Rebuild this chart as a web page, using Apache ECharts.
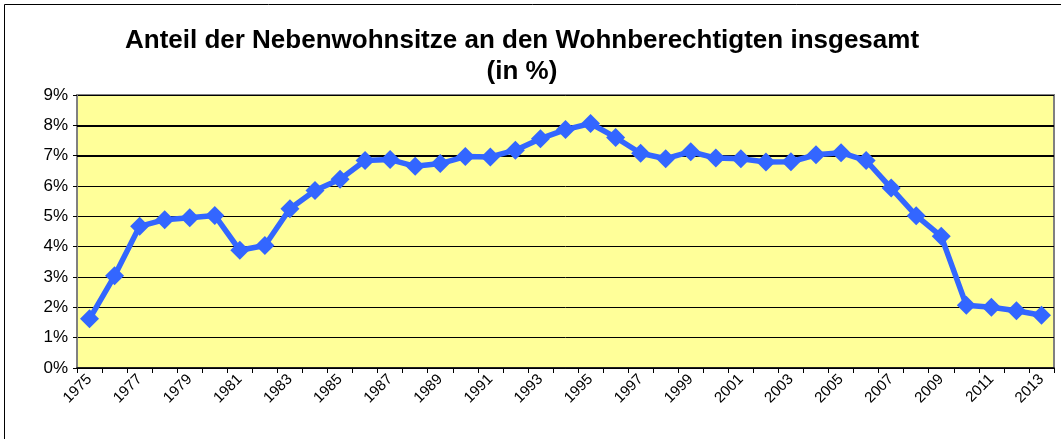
<!DOCTYPE html>
<html>
<head>
<meta charset="utf-8">
<script src="https://cdn.jsdelivr.net/npm/echarts@6/dist/echarts.min.js"></script>
<style>
  html, body { margin: 0; padding: 0; background: #fff; }
  #chart { width: 1061px; height: 439px; }
</style>
</head>
<body>
<div id="chart"></div>
<script>
const years = []
for (let y = 1975; y <= 2013; y++) years.push(String(y))

// Anteil in %
const shares = [
  1.62, 3.04, 4.67, 4.89, 4.95, 5.03, 3.88, 4.04, 5.25, 5.85,
  6.22, 6.84, 6.87, 6.65, 6.74, 6.97, 6.96, 7.18, 7.56, 7.86,
  8.06, 7.6, 7.08, 6.9, 7.13, 6.92, 6.9, 6.79, 6.8, 7.03,
  7.1, 6.84, 5.93, 5.02, 4.34, 2.07, 2.0, 1.89, 1.74
]
const boldLines = [7, 8]

const chart = echarts.init(document.getElementById('chart'))

const font = 'Liberation Sans, Arial, sans-serif'

const options = {
  animation: false,
  title: {
    text: 'Anteil der Nebenwohnsitze an den Wohnberechtigten insgesamt\n(in %)',
    left: 517,
    textAlign: 'center',
    top: 20,
    textStyle: {
      fontFamily: font,
      fontWeight: 'bold',
      fontSize: 26,
      lineHeight: 31,
      color: '#000',
    },
  },
  graphic: [
    { type: 'line', shape: { x1: 4.5, y1: 4.5, x2: 1061, y2: 4.5 }, style: { stroke: '#000', lineWidth: 1 } },
    { type: 'line', shape: { x1: 4.5, y1: 4.5, x2: 4.5, y2: 439 }, style: { stroke: '#000', lineWidth: 1 } },
  ],
  grid: {
    left: 77,
    right: 7,
    top: 95,
    bottom: 71,
    show: true,
    backgroundColor: '#FFFF99',
    borderColor: '#808080',
    borderWidth: 2,
  },
  xAxis: {
    type: 'category',
    data: years,
    boundaryGap: true,
    axisLine: { lineStyle: { color: '#000', width: 1.5 } },
    axisTick: { show: true, interval: 0, length: 5, lineStyle: { color: '#000' } },
    axisLabel: {
      interval: 1,
      rotate: 45,
      margin: 9,
      fontFamily: font,
      fontSize: 15,
      color: '#000',
    },
  },
  yAxis: {
    type: 'value',
    min: 0,
    max: 9,
    interval: 1,
    axisLine: { show: true, lineStyle: { color: '#808080', width: 2 } },
    axisTick: { show: true, length: 4, lineStyle: { color: '#000' } },
    axisLabel: {
      formatter: '{value}%',
      margin: 9,
      fontFamily: font,
      fontSize: 17,
      color: '#000',
    },
    splitLine: { show: true, lineStyle: { color: '#000', width: 1 } },
  },
  series: [
    {
      type: 'line',
      data: shares,
      symbol: 'diamond',
      symbolSize: 19,
      showAllSymbol: true,
      lineStyle: { color: '#3366FF', width: 5.5 },
      itemStyle: { color: '#3366FF' },
      markLine: {
        silent: true,
        symbol: 'none',
        label: { show: false },
        lineStyle: { color: '#000', width: 2, type: 'solid' },
        data: boldLines.map((v) => ({ yAxis: v })),
        z: 1,
      },
    },
  ],
}

chart.setOption(options)
</script>
</body>
</html>
